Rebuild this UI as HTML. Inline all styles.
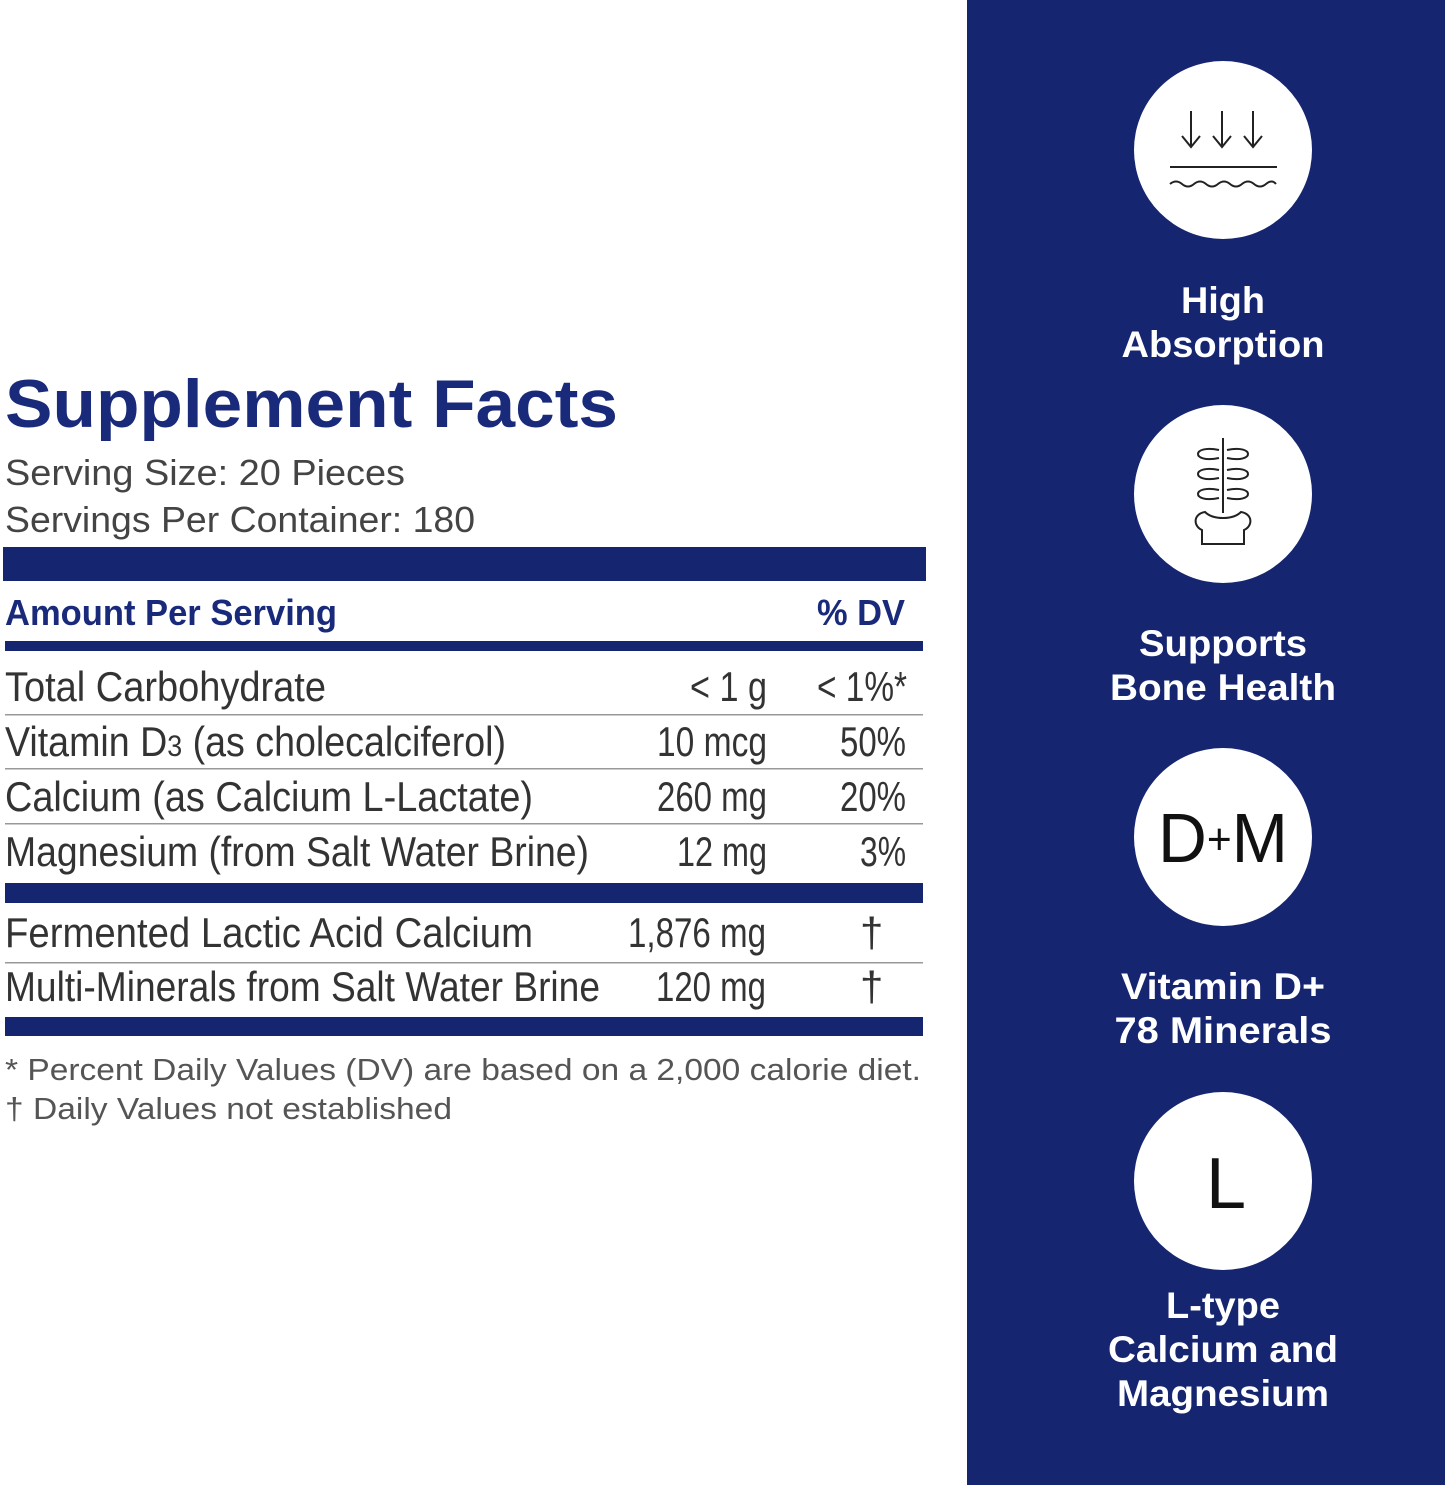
<!DOCTYPE html>
<html><head><meta charset="utf-8"><style>
html,body{margin:0;padding:0;background:#fff;width:1445px;height:1485px;overflow:hidden}
svg{display:block}
.t{font-family:"Liberation Sans Narrow","Liberation Sans",sans-serif;fill:#333;font-size:42px}
.s{font-family:"Liberation Sans",sans-serif;fill:#fff;font-size:37px;font-weight:bold;text-anchor:middle}
</style></head><body>
<svg width="1445" height="1485" viewBox="0 0 1445 1485" xmlns="http://www.w3.org/2000/svg">
<rect x="967" y="0" width="478" height="1485" fill="#15256f"/>
<g fill="#fff">
<circle cx="1223" cy="150" r="89"/><circle cx="1223" cy="494" r="89"/>
<circle cx="1223" cy="837" r="89"/><circle cx="1223" cy="1181" r="89"/>
</g>
<g stroke="#222" stroke-width="2" fill="none">
<path d="M1191 111v36M1182 136l9 11 9-11M1222 111v36M1213 136l9 11 9-11M1253 111v36M1244 136l9 11 9-11"/>
<path d="M1170 167h107"/>
<path d="M1170 184q6 -5 12 0t12 0t12 0t12 0t12 0t12 0t12 0t12 0t10 0"/>
<path d="M1223 438v75"/>
<path d="M1219 450c-28 -6 -28 14 0 8M1227 450c28 -6 28 14 0 8M1219 470c-28 -6 -28 14 0 8M1227 470c28 -6 28 14 0 8M1219 490c-28 -6 -28 14 0 8M1227 490c28 -6 28 14 0 8"/>
<path d="M1205 512c-12 2 -12 14 -3 18v14h42v-14c9 -4 9 -16 -3 -18c-8 8 -28 8 -36 0z"/>
</g>
<text x="1223" y="862" font-family="Liberation Sans,sans-serif" font-size="70" fill="#111" text-anchor="middle" textLength="130" lengthAdjust="spacingAndGlyphs">D<tspan font-size="44" dy="-8">+</tspan><tspan dy="8">M</tspan></text>
<text x="1226" y="1208" font-family="Liberation Sans,sans-serif" font-size="72" fill="#111" text-anchor="middle">L</text>
<g class="s">
<text x="1223" y="313" textLength="84" lengthAdjust="spacingAndGlyphs">High</text><text x="1223" y="357" textLength="203" lengthAdjust="spacingAndGlyphs">Absorption</text>
<text x="1223" y="656" textLength="168" lengthAdjust="spacingAndGlyphs">Supports</text><text x="1223" y="700" textLength="226" lengthAdjust="spacingAndGlyphs">Bone Health</text>
<text x="1223" y="999" textLength="204" lengthAdjust="spacingAndGlyphs">Vitamin D+</text><text x="1223" y="1043" textLength="217" lengthAdjust="spacingAndGlyphs">78 Minerals</text>
<text x="1223" y="1318" textLength="114" lengthAdjust="spacingAndGlyphs">L-type</text><text x="1223" y="1362" textLength="230" lengthAdjust="spacingAndGlyphs">Calcium and</text><text x="1223" y="1406" textLength="212" lengthAdjust="spacingAndGlyphs">Magnesium</text>
</g>
<text x="5" y="427" font-family="Liberation Sans,sans-serif" font-weight="bold" font-size="68" fill="#1a2a7a" textLength="613" lengthAdjust="spacingAndGlyphs">Supplement Facts</text>
<g font-family="Liberation Sans Narrow,Liberation Sans,sans-serif" font-size="36" fill="#444">
<text x="5" y="485" textLength="400" lengthAdjust="spacingAndGlyphs">Serving Size: 20 Pieces</text>
<text x="5" y="532" textLength="470" lengthAdjust="spacingAndGlyphs">Servings Per Container: 180</text>
</g>
<g fill="#15256f">
<rect x="3" y="547" width="923" height="34"/>
<rect x="5" y="641" width="918" height="10"/>
<rect x="5" y="883" width="918" height="20"/>
<rect x="5" y="1017" width="918" height="19"/>
</g>
<g fill="#999"><rect x="5" y="714" width="918" height="1.5"/><rect x="5" y="768" width="918" height="1.5"/><rect x="5" y="823" width="918" height="1.5"/><rect x="5" y="962" width="918" height="1.5"/></g>
<g font-family="Liberation Sans Narrow,Liberation Sans,sans-serif" font-weight="bold" font-size="36" fill="#1a2a7a">
<text x="5" y="625" textLength="332" lengthAdjust="spacingAndGlyphs">Amount Per Serving</text>
<text x="817" y="625" textLength="88" lengthAdjust="spacingAndGlyphs">% DV</text>
</g>
<g class="t">
<text x="5" y="701" textLength="321" lengthAdjust="spacingAndGlyphs">Total Carbohydrate</text>
<text x="690" y="701" textLength="77" lengthAdjust="spacingAndGlyphs">&lt; 1 g</text>
<text x="817" y="701" textLength="90" lengthAdjust="spacingAndGlyphs">&lt; 1%*</text>
<text x="5" y="756" textLength="501" lengthAdjust="spacingAndGlyphs">Vitamin D<tspan font-size="30">3</tspan> (as cholecalciferol)</text>
<text x="657" y="756" textLength="110" lengthAdjust="spacingAndGlyphs">10 mcg</text>
<text x="840" y="756" textLength="66" lengthAdjust="spacingAndGlyphs">50%</text>
<text x="5" y="811" textLength="528" lengthAdjust="spacingAndGlyphs">Calcium (as Calcium L-Lactate)</text>
<text x="657" y="811" textLength="110" lengthAdjust="spacingAndGlyphs">260 mg</text>
<text x="840" y="811" textLength="66" lengthAdjust="spacingAndGlyphs">20%</text>
<text x="5" y="866" textLength="584" lengthAdjust="spacingAndGlyphs">Magnesium (from Salt Water Brine)</text>
<text x="677" y="866" textLength="90" lengthAdjust="spacingAndGlyphs">12 mg</text>
<text x="860" y="866" textLength="46" lengthAdjust="spacingAndGlyphs">3%</text>
<text x="5" y="947" textLength="528" lengthAdjust="spacingAndGlyphs">Fermented Lactic Acid Calcium</text>
<text x="628" y="947" textLength="138" lengthAdjust="spacingAndGlyphs">1,876 mg</text>
<text x="860" y="947">†</text>
<text x="5" y="1001" textLength="595" lengthAdjust="spacingAndGlyphs">Multi-Minerals from Salt Water Brine</text>
<text x="656" y="1001" textLength="110" lengthAdjust="spacingAndGlyphs">120 mg</text>
<text x="860" y="1001">†</text>
</g>
<g font-family="Liberation Sans,sans-serif" font-size="31" fill="#555">
<text x="5" y="1080" textLength="916" lengthAdjust="spacingAndGlyphs">* Percent Daily Values (DV) are based on a 2,000 calorie diet.</text>
<text x="5" y="1119" textLength="447" lengthAdjust="spacingAndGlyphs">† Daily Values not established</text>
</g>
</svg>
</body></html>
